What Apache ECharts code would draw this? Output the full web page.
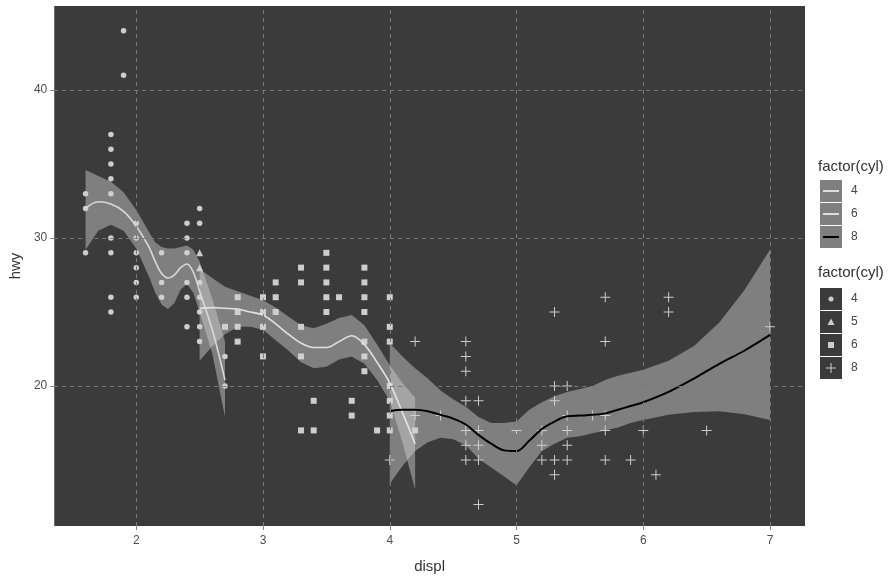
<!DOCTYPE html>
<html>
<head>
<meta charset="utf-8">
<script src="https://cdn.jsdelivr.net/npm/echarts@6/dist/echarts.min.js"></script>
<style>
html,body{margin:0;padding:0;background:#fff;}
#chart{width:895px;height:581px;}
</style>
</head>
<body>
<div id="chart"></div>
<script>
// ---- data (displ, hwy) ----
const pts4 = [[1.6,29],[1.6,32],[1.6,33],
  [1.8,25],[1.8,26],[1.8,29],[1.8,30],[1.8,33],[1.8,34],[1.8,35],[1.8,36],[1.8,37],
  [1.9,41],[1.9,44],
  [2.0,26],[2.0,27],[2.0,28],[2.0,29],[2.0,30],[2.0,31],
  [2.2,26],[2.2,27],[2.2,29],
  [2.4,24],[2.4,26],[2.4,27],[2.4,29],[2.4,30],[2.4,31],
  [2.5,23],[2.5,24],[2.5,25],[2.5,26],[2.5,27],[2.5,31],[2.5,32],
  [2.7,20],[2.7,22]];
const pts5 = [[2.5,28],[2.5,29]];
const pts6 = [[2.7,24],
  [2.8,23],[2.8,24],[2.8,25],[2.8,26],
  [3.0,22],[3.0,24],[3.0,25],[3.0,26],
  [3.1,25],[3.1,26],[3.1,27],
  [3.3,17],[3.3,22],[3.3,24],[3.3,27],[3.3,28],
  [3.4,17],[3.4,19],
  [3.5,25],[3.5,26],[3.5,27],[3.5,28],[3.5,29],
  [3.6,26],
  [3.7,18],[3.7,19],
  [3.8,21],[3.8,22],[3.8,23],[3.8,25],[3.8,26],[3.8,27],[3.8,28],
  [3.9,17],
  [4.0,17],[4.0,18],[4.0,19],[4.0,20],[4.0,23],[4.0,24],[4.0,26],
  [4.2,17]];
const pts8 = [[4.0,15],
  [4.2,18],[4.2,23],[4.4,18],
  [4.6,15],[4.6,16],[4.6,17],[4.6,19],[4.6,21],[4.6,22],[4.6,23],
  [4.7,12],[4.7,15],[4.7,16],[4.7,17],[4.7,19],
  [5.0,17],
  [5.2,15],[5.2,16],[5.2,17],
  [5.3,14],[5.3,15],[5.3,19],[5.3,20],[5.3,25],
  [5.4,15],[5.4,16],[5.4,17],[5.4,18],[5.4,20],
  [5.6,18],
  [5.7,15],[5.7,17],[5.7,18],[5.7,23],[5.7,26],
  [5.9,15],[6.0,17],[6.1,14],[6.2,25],[6.2,26],[6.5,17],[7.0,24]];

// smooth fits and confidence bands
const s4x  = [1.6, 1.7, 1.8, 1.9, 2.0, 2.1, 2.15, 2.2, 2.25, 2.3, 2.35, 2.4, 2.45, 2.5, 2.6, 2.7];
const s4y  = [32.0,32.45,32.3,31.8,30.8,29.4,28.4,27.6,27.3,27.5,28.0,28.25,27.7,26.4,23.8,20.4];
const s4hi = [34.6,34.2,33.8,33.1,31.9,30.4,29.7,29.4,29.3,29.3,29.4,29.5,29.2,28.4,25.9,23.0];
const s4lo = [29.2,30.5,30.9,30.5,29.3,27.4,26.3,25.5,25.2,25.6,26.5,26.9,26.3,25.0,22.2,17.9];

const s6x  = [2.5, 2.6, 2.7, 2.8, 2.9, 3.0, 3.1, 3.2, 3.3, 3.4, 3.5, 3.6, 3.7, 3.8, 3.9, 4.0, 4.1, 4.2];
const s6y  = [25.25,25.3,25.25,25.2,25.0,24.8,24.2,23.5,22.9,22.6,22.6,23.0,23.4,22.8,21.6,20.2,18.2,16.1];
const s6hi = [27.9,27.3,26.7,26.4,26.1,25.8,25.3,24.7,24.1,23.9,24.2,24.6,24.8,24.1,22.8,21.4,20.2,19.2];
const s6lo = [21.7,22.7,23.5,24.0,24.0,23.8,23.1,22.4,21.6,21.2,21.3,21.8,22.0,21.5,20.4,19.0,16.2,13.0];

const s8x  = [4.0, 4.1, 4.2, 4.3, 4.4, 4.5, 4.6, 4.7, 4.8, 4.9, 5.0, 5.1, 5.2, 5.3, 5.4, 5.5, 5.6, 5.7, 5.8, 5.9, 6.0, 6.2, 6.4, 6.6, 6.8, 7.0];
const s8y  = [18.3,18.4,18.4,18.3,18.05,17.8,17.4,16.7,16.1,15.65,15.6,16.3,17.1,17.6,17.95,18.0,18.05,18.15,18.4,18.65,18.9,19.6,20.5,21.5,22.4,23.45];
const s8hi = [22.9,22.0,21.2,20.5,19.7,19.1,18.6,17.9,17.5,17.5,17.6,18.4,18.9,19.3,19.6,19.8,20.0,20.4,20.7,20.9,21.1,21.7,22.7,24.3,26.5,29.2];
const s8lo = [13.4,14.6,15.6,16.2,16.5,16.4,16.0,15.1,14.5,13.9,13.3,14.5,15.6,16.1,16.5,16.6,16.8,17.0,17.2,17.5,17.7,18.05,18.25,18.3,18.1,17.7];

const xTicks = [2,3,4,5,6,7];
const yTicks = [20,30,40];
const legendLabelsLine = ['4','6','8'];
const legendLabelsShape = ['4','5','6','8'];

// ---- styling ----
const FONT = 'Liberation Sans, Arial, sans-serif';
const PT = '#cdcdcd';
const BAND = 'rgba(210,210,210,0.45)';
const crossPath = 'path://M4.5,0h1v4.5h4.5v1h-4.5v4.5h-1v-4.5h-4.5v-1h4.5z';

function zip(xs, ys){ return xs.map((x,i)=>[x, ys[i]]); }

function bandSeries(xs, lo, hi){
  const data = xs.map((x,i)=>[x, lo[i], hi[i]]);
  return {
    type:'custom', silent:true, z:3, data,
    encode:{x:0, y:[1,2]},
    renderItem(params, api){
      if(params.dataIndex !== 0) return null;
      const up = data.map(d=>api.coord([d[0], d[2]]));
      const dn = data.map(d=>api.coord([d[0], d[1]])).reverse();
      return {type:'polygon', shape:{points: up.concat(dn)}, style:{fill: BAND}};
    }
  };
}
function lineSeries(xs, ys, color, w){
  return {type:'line', data: zip(xs, ys), smooth:0.35, showSymbol:false, symbol:'none',
    silent:true, z:4, lineStyle:{color, width:w}, itemStyle:{color}};
}
function pointSeries(data, symbol, size){
  return {type:'scatter', data, symbol, symbolSize:size, silent:true, z:2,
    itemStyle:{color:PT, opacity:1}};
}

const chart = echarts.init(document.getElementById('chart'), null, {renderer:'canvas'});

// legend graphics
const graphic = [];
function txt(x, y, s, size, color){
  graphic.push({type:'text', x, y, style:{text:s, x:0, y:0, fill:color, font: size+'px '+FONT, verticalAlign:'middle'}});
}
txt(818, 167, 'factor(cyl)', 15, '#333');
const lineCols = ['#dcdcdc','#dcdcdc','#000'];
legendLabelsLine.forEach((lab,i)=>{
  const y = 180 + i*23;
  graphic.push({type:'rect', shape:{x:820, y, width:22, height:22}, style:{fill:'#7f7f7f'}});
  graphic.push({type:'line', shape:{x1:823, y1:y+11, x2:839, y2:y+11}, style:{stroke:lineCols[i], lineWidth:2}});
  txt(851, y+11, lab, 12, '#444');
});
txt(818, 273, 'factor(cyl)', 15, '#333');
legendLabelsShape.forEach((lab,i)=>{
  const y = 288 + i*23;
  graphic.push({type:'rect', shape:{x:820, y, width:22, height:22}, style:{fill:'#3b3b3b'}});
  txt(851, y+11, lab, 12, '#444');
});
// legend symbols
graphic.push({type:'circle', shape:{cx:831, cy:299, r:2.5}, style:{fill:PT}});
graphic.push({type:'polygon', shape:{points:[[831,318.5],[834.5,325],[827.5,325]]}, style:{fill:PT}});
graphic.push({type:'rect', shape:{x:828, y:342, width:6, height:6}, style:{fill:PT}});
graphic.push({type:'rect', shape:{x:826, y:367.5, width:10, height:1}, style:{fill:PT}});
graphic.push({type:'rect', shape:{x:830.5, y:363, width:1, height:10}, style:{fill:PT}});

const option = {
  animation:false,
  backgroundColor:'#ffffff',
  grid:{left:54, top:6, right:90, bottom:55, show:true, backgroundColor:'#3b3b3b', borderWidth:0, containLabel:false},
  xAxis:{type:'value', min:1.353, max:7.276,
    name:'displ', nameLocation:'middle', nameGap:33,
    nameTextStyle:{fontFamily:FONT, fontSize:15, color:'#333'},
    axisLine:{show:false},
    axisTick:{show:true, length:4, lineStyle:{color:'#888'}, customValues:xTicks},
    axisLabel:{customValues:xTicks, fontFamily:FONT, fontSize:12, color:'#4d4d4d', margin:9},
    splitLine:{show:false}},
  yAxis:{type:'value', min:10.54, max:45.68,
    name:'hwy', nameLocation:'middle', nameGap:29, nameRotate:90,
    nameTextStyle:{fontFamily:FONT, fontSize:15, color:'#333'},
    axisLine:{show:false},
    axisTick:{show:true, length:4, lineStyle:{color:'#888'}, customValues:yTicks},
    axisLabel:{customValues:yTicks, fontFamily:FONT, fontSize:12, color:'#4d4d4d', margin:7},
    splitLine:{show:false}},
  graphic,
  series:[
    {type:'line', data:[], silent:true, z:1,
      markLine:{silent:true, symbol:'none', label:{show:false}, animation:false,
        lineStyle:{color:'#7a7a7a', type:[4,4], width:1},
        emphasis:{disabled:true},
        data: xTicks.map(v=>({xAxis:v})).concat(yTicks.map(v=>({yAxis:v})))}},
    pointSeries(pts4, 'circle', 5.5),
    pointSeries(pts5, 'triangle', 7),
    pointSeries(pts6, 'rect', 6),
    pointSeries(pts8, crossPath, 10),
    bandSeries(s4x, s4lo, s4hi),
    bandSeries(s6x, s6lo, s6hi),
    bandSeries(s8x, s8lo, s8hi),
    lineSeries(s4x, s4y, '#d8d8d8', 1.6),
    lineSeries(s6x, s6y, '#e2e2e2', 1.6),
    lineSeries(s8x, s8y, '#000000', 2)
  ]
};
chart.setOption(option);
</script>
</body>
</html>
